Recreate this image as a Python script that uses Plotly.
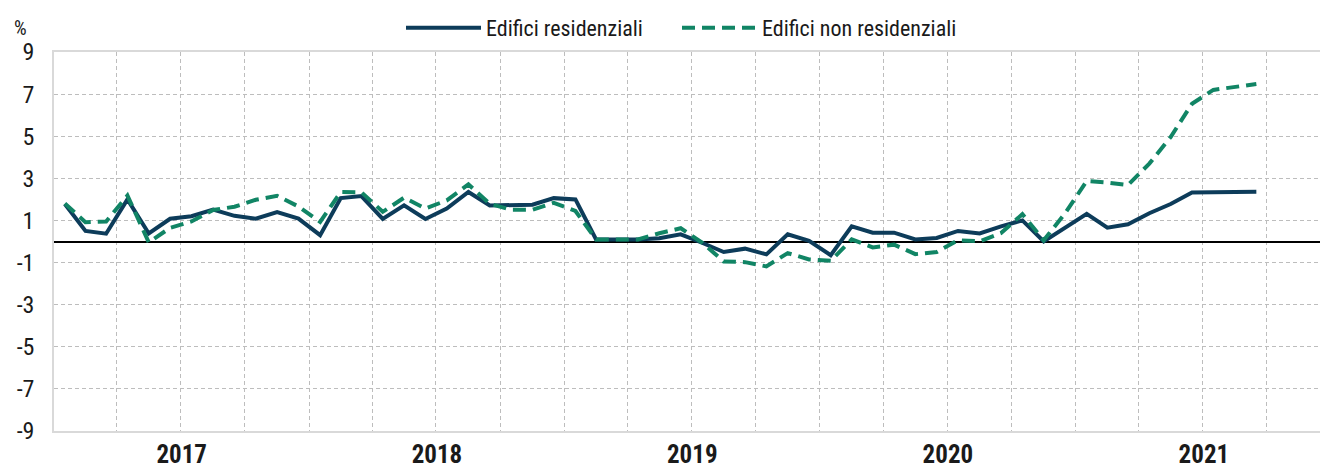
import plotly.graph_objects as go
import pandas as pd

# Monthly categories: Jan 2017 .. Sep 2021
months = pd.date_range("2017-01-01", periods=57, freq="MS").strftime("%Y-%m-%d").tolist()

residenziali = [
    1.78, 0.50, 0.37, 2.00, 0.38, 1.08, 1.20, 1.52, 1.22, 1.08, 1.40, 1.09,
    0.30, 2.06, 2.16, 1.07, 1.72, 1.07, 1.56, 2.35, 1.71, 1.75, 1.75, 2.06,
    2.00, 0.10, 0.10, 0.10, 0.15, 0.34, -0.06, -0.50, -0.34, -0.61, 0.34, 0.03,
    -0.65, 0.72, 0.42, 0.42, 0.10, 0.17, 0.50, 0.38, 0.72, 1.00, 0.00, 0.66,
    1.31, 0.66, 0.82, 1.34, 1.78, 2.33, 2.33, 2.36, 2.36,
]

non_residenziali = [
    1.80, 0.92, 0.95, 2.18, -0.04, 0.65, 0.95, 1.50, 1.65, 1.98, 2.17, 1.66,
    0.93, 2.35, 2.34, 1.41, 2.08, 1.57, 1.95, 2.71, 1.79, 1.51, 1.51, 1.84,
    1.45, 0.10, 0.10, 0.10, 0.39, 0.63, -0.05, -0.95, -0.98, -1.18, -0.55, -0.85,
    -0.92, 0.10, -0.28, -0.15, -0.60, -0.50, 0.06, 0.01, 0.40, 1.30, 0.06, 1.34,
    2.87, 2.80, 2.68, 3.70, 4.96, 6.54, 7.20, 7.35, 7.48,
]

y_ticks = [9, 7, 5, 3, 1, -1, -3, -5, -7, -9]
series_names = ["Edifici residenziali", "Edifici non residenziali"]

NAVY = "#0d3c5a"
GREEN = "#118565"
GRID = "#bdbdbd"
FONT = "Roboto Condensed, Liberation Sans Narrow, Arial Narrow, Liberation Sans, Arial, sans-serif"

fig = go.Figure()
fig.add_trace(go.Scatter(
    x=months, y=residenziali, name=series_names[0], mode="lines",
    line=dict(color=NAVY, width=4),
    xperiod="M1", xperiodalignment="middle", legend="legend",
))
fig.add_trace(go.Scatter(
    x=months, y=non_residenziali, name=series_names[1], mode="lines",
    line=dict(color=GREEN, width=4, dash="13px,7px"),
    xperiod="M1", xperiodalignment="middle", legend="legend2",
))

legend_common = dict(
    orientation="h", xref="container", xanchor="left",
    yref="container", y=1 - 28 / 467, yanchor="middle",
    itemwidth=75,
    font=dict(size=22, family=FONT, color="#1a1a1a"),
    bgcolor="rgba(0,0,0,0)",
)

fig.update_layout(
    width=1320, height=467,
    margin=dict(l=54, r=0, t=52, b=36, autoexpand=False),
    paper_bgcolor="white", plot_bgcolor="white",
    font=dict(family=FONT, color="#1a1a1a", size=24),
    showlegend=True,
    legend=dict(legend_common, x=401 / 1320),
    legend2=dict(legend_common, x=677 / 1320),
    annotations=[dict(
        text="%", xref="paper", yref="paper", x=0, y=1, xshift=-34, yshift=24,
        xanchor="center", yanchor="middle", showarrow=False,
        font=dict(size=20, family=FONT, color="#1a1a1a"),
    )],
)

fig.update_xaxes(
    type="date", automargin=False,
    range=["2017-01-01", "2021-12-16"],
    dtick="M12", tick0="2017-01-01", tickformat="%Y",
    ticklabelmode="period",
    ticks="", ticklabelstandoff=0,
    tickfont=dict(size=25, family=FONT, color="#1a1a1a", weight="bold"),
    showgrid=True, gridcolor=GRID, griddash="4px,3px", gridwidth=1,
    minor=dict(dtick="M3", tick0="2017-01-01", showgrid=True, gridcolor=GRID,
               griddash="4px,3px", gridwidth=1, ticks=""),
    showline=True, linecolor="#d9d9d9", linewidth=1.5, mirror=True,
    zeroline=False,
)

fig.update_yaxes(
    automargin=False,
    range=[-9, 9], tickmode="array", tickvals=y_ticks,
    ticktext=[str(v) for v in y_ticks],
    ticks="", ticklabelstandoff=13,
    tickfont=dict(size=24, family=FONT, color="#1a1a1a"),
    showgrid=True, gridcolor=GRID, griddash="4px,3px", gridwidth=1,
    zeroline=True, zerolinecolor="#000000", zerolinewidth=1.5,
    showline=True, linecolor="#d9d9d9", linewidth=1.5, mirror=False,
)

fig.write_html(
    "out.html",
    config={"displayModeBar": False},
    post_script="document.body.style.margin='0';document.body.style.overflow='hidden';",
)
